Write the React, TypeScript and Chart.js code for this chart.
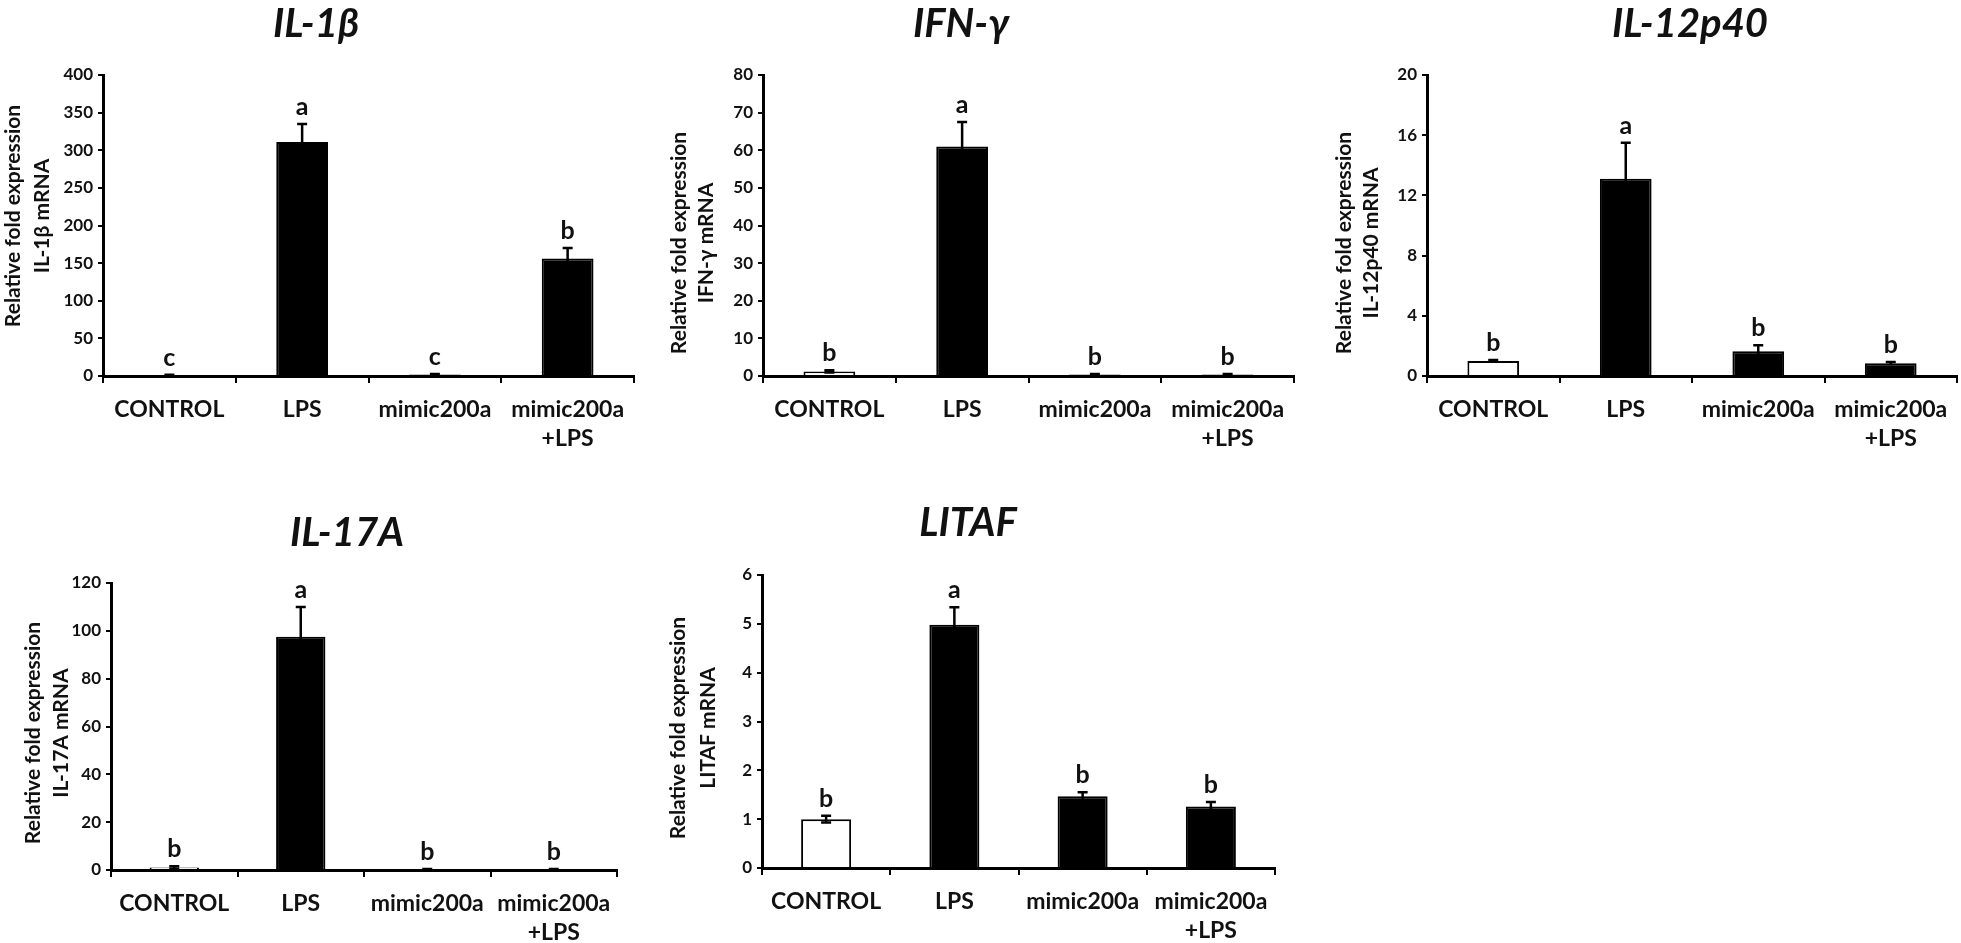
import React, { useEffect, useRef } from 'react';
import { Chart, registerables } from 'chart.js';

Chart.register(...registerables);

// ---------- data ----------
const categories: (string | string[])[] = ['CONTROL', 'LPS', 'mimic200a', ['mimic200a', '+LPS']];

const il1bMeans = [1, 311, 2, 156];
const il1bErrors = [0.5, 24, 0.6, 14];
const il1bLetters = ['c', 'a', 'c', 'b'];
const il1bAxis = [0, 400, 50];

const ifngMeans = [1.2, 61, 0.4, 0.4];
const ifngErrors = [0.3, 6.5, 0.1, 0.1];
const ifngLetters = ['b', 'a', 'b', 'b'];
const ifngAxis = [0, 80, 10];

const il12Means = [1.0, 13.1, 1.65, 0.85];
const il12Errors = [0.06, 2.4, 0.4, 0.08];
const il12Letters = ['b', 'a', 'b', 'b'];
const il12Axis = [0, 20, 4];

const il17Means = [1.0, 97.5, 0.3, 0.3];
const il17Errors = [0.6, 12.5, 0.1, 0.1];
const il17Letters = ['b', 'a', 'b', 'b'];
const il17Axis = [0, 120, 20];

const litafMeans = [1.0, 4.98, 1.47, 1.26];
const litafErrors = [0.07, 0.36, 0.08, 0.09];
const litafLetters = ['b', 'a', 'b', 'b'];
const litafAxis = [0, 6, 1];

const barColors = ['#ffffff', '#000000', '#000000', '#000000'];

// ---------- layout ----------
const FONT = 'Lato, "Open Sans", "Noto Sans", sans-serif';
const PAD_L = 110;
const PAD_T = 80;
const PAD_B = 85;
const PAD_R = 12;

type PanelCfg = {
  title: string;
  yTitle: string[];
  means: number[];
  errors: number[];
  letters: string[];
  axis: number[];
  area: { left: number; right: number; top: number; bottom: number };
  titlePos: [number, number];
  yTitleX: [number, number];
  yTitleY: number;
};

const PANELS: PanelCfg[] = [
  {
    title: 'IL-1β', yTitle: ['Relative fold expression', 'IL-1β mRNA'],
    means: il1bMeans, errors: il1bErrors, letters: il1bLetters, axis: il1bAxis,
    area: { left: 103, right: 634, top: 75, bottom: 376 },
    titlePos: [316, 24], yTitleX: [13, 42], yTitleY: 216,
  },
  {
    title: 'IFN-γ', yTitle: ['Relative fold expression', 'IFN-γ mRNA'],
    means: ifngMeans, errors: ifngErrors, letters: ifngLetters, axis: ifngAxis,
    area: { left: 763, right: 1294, top: 75, bottom: 376 },
    titlePos: [961, 24], yTitleX: [679, 706], yTitleY: 243,
  },
  {
    title: 'IL-12p40', yTitle: ['Relative fold expression', 'IL-12p40 mRNA'],
    means: il12Means, errors: il12Errors, letters: il12Letters, axis: il12Axis,
    area: { left: 1427, right: 1957, top: 75, bottom: 376 },
    titlePos: [1690, 24], yTitleX: [1344, 1371], yTitleY: 243,
  },
  {
    title: 'IL-17A', yTitle: ['Relative fold expression', 'IL-17A mRNA'],
    means: il17Means, errors: il17Errors, letters: il17Letters, axis: il17Axis,
    area: { left: 111, right: 617, top: 583, bottom: 870 },
    titlePos: [347, 533], yTitleX: [33, 61], yTitleY: 733,
  },
  {
    title: 'LITAF', yTitle: ['Relative fold expression', 'LITAF mRNA'],
    means: litafMeans, errors: litafErrors, letters: litafLetters, axis: litafAxis,
    area: { left: 762, right: 1275, top: 575, bottom: 868 },
    titlePos: [968, 523], yTitleX: [678, 708], yTitleY: 728,
  },
];

function Panel({ cfg }: { cfg: PanelCfg }) {
  const ref = useRef<HTMLCanvasElement>(null);
  const x0 = cfg.area.left - PAD_L;
  const y0 = cfg.area.top - PAD_T;
  const w = cfg.area.right - cfg.area.left + PAD_L + PAD_R;
  const h = cfg.area.bottom - cfg.area.top + PAD_T + PAD_B;

  useEffect(() => {
    const canvas = ref.current;
    if (!canvas) return;

    const annot = {
      id: 'annot',
      afterDatasetsDraw(chart: any) {
        const ctx = chart.ctx;
        const yScale = chart.scales.y;
        const meta = chart.getDatasetMeta(0);
        ctx.save();
        // error bars + letters
        meta.data.forEach((bar: any, i: number) => {
          const m = cfg.means[i];
          const e = cfg.errors[i];
          const x = bar.x;
          const yTop = yScale.getPixelForValue(m + e);
          const yBot = yScale.getPixelForValue(Math.max(m - e, 0));
          ctx.strokeStyle = '#000';
          ctx.lineWidth = 2.5;
          ctx.beginPath();
          ctx.moveTo(x, yBot);
          ctx.lineTo(x, yTop);
          ctx.moveTo(x - 5, yTop);
          ctx.lineTo(x + 5, yTop);
          if (i === 0) {
            ctx.moveTo(x - 5, yBot);
            ctx.lineTo(x + 5, yBot);
          }
          ctx.stroke();
          ctx.fillStyle = '#111';
          ctx.font = `bold 25px ${FONT}`;
          ctx.textAlign = 'center';
          ctx.textBaseline = 'alphabetic';
          ctx.fillText(cfg.letters[i], x, yTop - 9);
        });
        // panel title
        ctx.fillStyle = '#111';
        ctx.font = `italic bold 40px ${FONT}`;
        ctx.textAlign = 'center';
        ctx.textBaseline = 'middle';
        ctx.fillText(cfg.title, cfg.titlePos[0] - x0, cfg.titlePos[1] - y0);
        // y axis title
        ctx.font = `bold 21px ${FONT}`;
        cfg.yTitle.forEach((line, k) => {
          ctx.save();
          ctx.translate(cfg.yTitleX[k] - x0, cfg.yTitleY - y0);
          ctx.rotate(-Math.PI / 2);
          ctx.textAlign = 'center';
          ctx.textBaseline = 'middle';
          ctx.fillText(line, 0, 0);
          ctx.restore();
        });
        ctx.restore();
      },
    };

    const chart = new Chart(canvas, {
      type: 'bar',
      data: {
        labels: categories as any,
        datasets: [
          {
            data: cfg.means,
            backgroundColor: barColors,
            borderColor: '#000',
            borderWidth: 2,
            barPercentage: 0.39,
            categoryPercentage: 1,
          },
        ],
      },
      options: {
        responsive: false,
        animation: false,
        devicePixelRatio: 1,
        layout: { padding: { left: 0, right: PAD_R, top: PAD_T, bottom: 0 } },
        plugins: { legend: { display: false }, tooltip: { enabled: false }, title: { display: false } },
        scales: {
          x: {
            offset: true,
            grid: { offset: true, drawOnChartArea: false, drawTicks: true, tickLength: 7, color: '#000', lineWidth: 2 },
            border: { display: true, color: '#000', width: 3 },
            ticks: {
              color: '#111',
              font: { family: FONT, size: 23, weight: 'bold', lineHeight: 1.25 },
              padding: 12,
              maxRotation: 0,
              minRotation: 0,
              autoSkip: false,
            },
            afterFit: (s: any) => { s.height = PAD_B; },
          },
          y: {
            min: cfg.axis[0],
            max: cfg.axis[1],
            ticks: {
              stepSize: cfg.axis[2],
              color: '#111',
              font: { family: FONT, size: 17, weight: 'bold' },
              padding: 5,
            },
            grid: { drawOnChartArea: false, drawTicks: true, tickLength: 5, color: '#000', lineWidth: 2 },
            border: { display: true, color: '#000', width: 3 },
            afterFit: (s: any) => { s.width = PAD_L; },
          },
        },
      } as any,
      plugins: [annot],
    });
    return () => chart.destroy();
  }, [cfg]);

  return (
    <canvas
      ref={ref}
      width={w}
      height={h}
      style={{ position: 'absolute', left: x0, top: y0, width: w, height: h }}
    />
  );
}

export default function App() {
  return (
    <div
      style={{
        position: 'fixed', left: 0, top: 0, width: 1961, height: 943,
        background: '#fff', overflow: 'hidden',
      }}
    >
      {PANELS.map((p) => (
        <Panel key={p.title} cfg={p} />
      ))}
    </div>
  );
}
